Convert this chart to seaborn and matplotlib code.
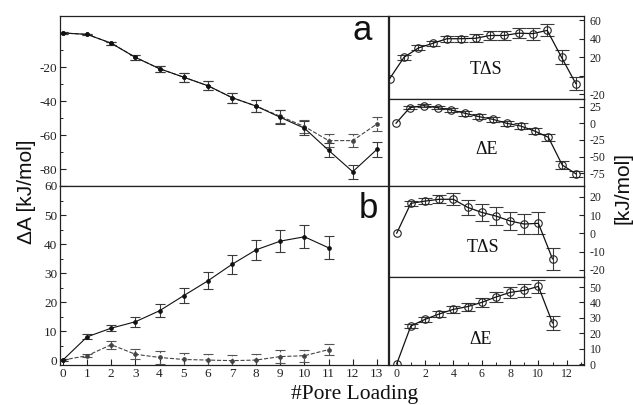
import matplotlib
matplotlib.use("Agg")
import matplotlib.pyplot as plt
import seaborn as sns
import numpy as np

# ---------------- data ----------------
load_a = list(range(14))
dA_a_solid = [0, -0.8, -6, -14.3, -21, -26, -31, -38, -43, -49.6, -56, -69, -81.6, -68.5]
dA_a_solid_err = [0.3, 0.5, 1.0, 1.5, 1.8, 2.6, 2.6, 3.0, 3.4, 4.1, 4.1, 4.1, 4.1, 4.2]
dA_a_dash = [0, -0.8, -6, -14.3, -21, -26, -31, -38, -43, -49.0, -55, -63.3, -63.3, -53.5]
dA_a_dash_err = [0.3, 0.5, 1.0, 1.5, 1.8, 2.6, 2.6, 3.0, 3.4, 4.0, 4.0, 3.6, 3.8, 3.9]

load_b = list(range(12))
dA_b_solid = [0, 8.0, 11.0, 13.2, 17.0, 22.2, 27.3, 33.0, 38.0, 41.0, 42.5, 38.7]
dA_b_solid_err = [0.2, 0.9, 1.1, 1.8, 2.2, 2.7, 2.9, 3.3, 3.5, 3.7, 3.9, 3.9]
dA_b_dash = [0, 1.5, 5.3, 2.0, 0.9, 0.2, 0.0, -0.2, 0.0, 1.2, 1.5, 3.6]
dA_b_dash_err = [0.2, 0.5, 1.4, 1.7, 2.1, 2.1, 2.1, 2.1, 2.1, 2.1, 2.1, 1.9]

TdS_a = [-3, 20, 30, 35, 40, 40, 40.5, 43.5, 43.5, 46, 45.5, 49, 20, -8.5]
TdS_a_err = [0, 2.7, 2.7, 2.4, 3.3, 3.3, 4.2, 4.5, 4.7, 5.1, 6.4, 6.6, 7.3, 6.9]
dE_a = [0, 23.5, 26.5, 23.5, 20, 15, 10, 6, 0, -4, -11.5, -21, -62.5, -76]
dE_a_err = [0, 2.5, 2.3, 2.5, 3.5, 3.5, 3.5, 3.8, 4.0, 4.5, 5.0, 5.0, 5.5, 3.8]

TdS_b = [0, 16.5, 17.7, 18.7, 18.7, 14.3, 11.5, 9.5, 6.8, 5.1, 5.5, -14.1]
TdS_b_err = [0, 1.5, 1.6, 2.3, 3.2, 4.1, 4.6, 4.9, 5.0, 5.5, 6.0, 6.1]
dE_b = [0, 24.7, 29, 32.5, 35.5, 37.3, 40, 43.5, 46.5, 47.8, 50.4, 26.6]
dE_b_err = [0, 1.4, 1.6, 1.8, 2.2, 2.6, 2.9, 3.5, 3.6, 4.3, 4.3, 4.5]

# ---------------- style ----------------
sns.set_theme(style="ticks")
plt.rcParams["font.family"] = ["Liberation Serif", "DejaVu Serif"]
plt.rcParams["axes.linewidth"] = 0.9
plt.rcParams["axes.edgecolor"] = "#222222"
plt.rcParams["axes.unicode_minus"] = False

W, H = 633, 405
fig = plt.figure(figsize=(W / 100, H / 100), dpi=100)


def box(x0, y0, x1, y1):
    return [x0 / W, 1 - y1 / H, (x1 - x0) / W, (y1 - y0) / H]


axA = fig.add_axes(box(60, 16, 388, 186))
axB = fig.add_axes(box(60, 186, 388, 365))
ax1 = fig.add_axes(box(389, 16, 584, 99))
ax2 = fig.add_axes(box(389, 99, 584, 186))
ax3 = fig.add_axes(box(389, 186, 584, 277))
ax4 = fig.add_axes(box(389, 277, 584, 365))

LINE = "#111111"
EB = "#3a3a3a"


def left_series(ax, x, y, e, dashed):
    ls = "--" if dashed else "-"
    col = "#444444" if dashed else LINE
    sns.lineplot(x=x, y=y, ax=ax, color=col, lw=0.8, linestyle=ls,
                 marker="o", markersize=2.8, markerfacecolor=col,
                 markeredgecolor=col, markeredgewidth=0.5, zorder=3)
    eb = ax.errorbar(x, y, yerr=e, fmt="none", ecolor="#555555" if dashed else EB,
                     elinewidth=0.8, capsize=3.5, capthick=0.8, zorder=2)
    if dashed:
        for lc in eb[2]:
            lc.set_linestyle((0, (3, 2)))


def right_series(ax, x, y, e):
    sns.lineplot(x=x, y=y, ax=ax, color=LINE, lw=0.9,
                 marker="o", markersize=5.4, markerfacecolor="none",
                 markeredgecolor="#222222", markeredgewidth=0.8, zorder=3)
    xs = [xi for xi, ei in zip(x, e) if ei > 0]
    ys = [yi for yi, ei in zip(y, e) if ei > 0]
    es = [ei for ei in e if ei > 0]
    ax.errorbar(xs, ys, yerr=es, fmt="none", ecolor=EB, elinewidth=0.8,
                capsize=5, capthick=0.8, zorder=2)


left_series(axA, load_a, dA_a_dash, dA_a_dash_err, True)
left_series(axA, load_a, dA_a_solid, dA_a_solid_err, False)
left_series(axB, load_b, dA_b_dash, dA_b_dash_err, True)
left_series(axB, load_b, dA_b_solid, dA_b_solid_err, False)

right_series(ax1, load_a, TdS_a, TdS_a_err)
right_series(ax2, load_a, dE_a, dE_a_err)
right_series(ax3, load_b, TdS_b, TdS_b_err)
right_series(ax4, load_b, dE_b, dE_b_err)

# ---------------- axes ----------------
for ax in (axA, axB):
    ax.set_xlim(-0.12, 13.46)
    ax.tick_params(axis="both", which="major", direction="in", length=4,
                   width=0.8, labelsize=9.5, pad=2, colors="#222222")
    ax.tick_params(axis="both", which="minor", direction="in", length=2.5,
                   width=0.7)
    ax.set_xlabel("")
    ax.set_ylabel("")

axA.set_ylim(-90, 10)
axA.set_yticks([-80, -60, -40, -20])
axA.set_yticks([-90, -70, -50, -30, -10, 0], minor=True)
axA.set_xticks([])

axB.set_ylim(-1.7, 60)
axB.set_yticks(list(range(0, 61, 10)))
axB.set_yticks(list(range(5, 60, 10)), minor=True)
axB.set_xticks(list(range(14)))

for ax in (ax1, ax2, ax3, ax4):
    ax.yaxis.tick_right()
    ax.tick_params(axis="both", which="major", direction="in", length=3.5,
                   width=0.8, labelsize=8.5, pad=4, colors="#222222")
    ax.tick_params(axis="both", which="minor", direction="in", length=2,
                   width=0.7)
    ax.set_xlabel("")
    ax.set_ylabel("")

ax1.set_xlim(-0.05, 13.57)
ax1.set_ylim(-25, 64.5)
ax1.set_yticks([-20, 0, 20, 40, 60])
ax1.set_yticklabels(["-20", "", "20", "40", "60"])
ax1.set_xticks([])

ax2.set_xlim(-0.5, 13.57)
ax2.set_ylim(-94, 36.5)
ax2.set_yticks([-75, -50, -25, 0, 25])
ax2.set_xticks([])

ax3.set_xlim(-0.54, 13.22)
ax3.set_ylim(-24, 26)
ax3.set_yticks([-20, -10, 0, 10, 20])
ax3.set_xticks([])

ax4.set_xlim(-0.54, 13.22)
ax4.set_ylim(-0.6, 56.5)
ax4.set_yticks(list(range(0, 51, 10)))
ax4.set_xticks(list(range(0, 13, 2)))
ax4.set_xticks(list(range(1, 14, 2)), minor=True)
ax4.tick_params(axis="x", which="major", pad=2)

# ---------------- texts ----------------
def ftext(px, py, s, **kw):
    fig.text(px / W, 1 - py / H, s, **kw)

sans = ["Liberation Sans", "DejaVu Sans"]
ftext(362, 31, "a", fontsize=25, family=sans, ha="center", va="center", color="#111111")
ftext(368, 209, "b", fontsize=25, family=sans, ha="center", va="center", color="#111111")

ftext(486, 69, "TΔS", fontsize=13, ha="center", va="center", color="#111111")
ftext(487, 149, "ΔE", fontsize=13, ha="center", va="center", color="#111111")
ftext(483, 248, "TΔS", fontsize=13, ha="center", va="center", color="#111111")
ftext(481, 339, "ΔE", fontsize=13, ha="center", va="center", color="#111111")

ftext(27, 192, "ΔA [kJ/mol]", fontsize=15, family=sans, rotation=90,
      ha="center", va="center", color="#111111")
ftext(623, 188, "[kJ/mol]", fontsize=15, family=sans, rotation=90,
      ha="center", va="center", color="#111111")
ftext(355, 394, "#Pore Loading", fontsize=15.5, ha="center", va="center",
      color="#111111")

fig.savefig("out.png", dpi=100, facecolor="white")
